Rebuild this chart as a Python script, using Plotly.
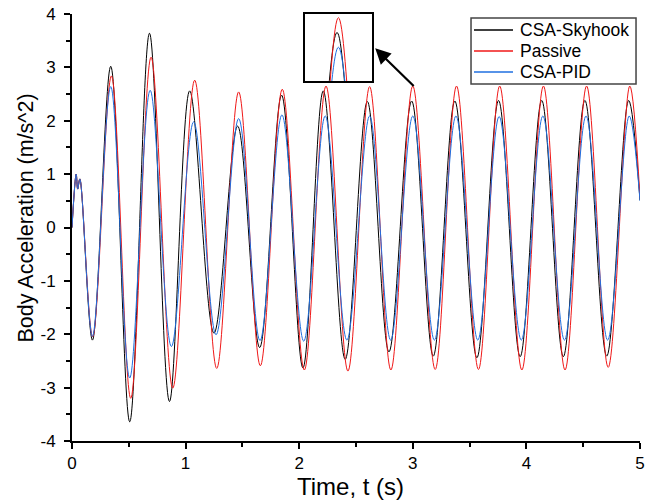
#!/usr/bin/env python3

import plotly.graph_objs as go

# Turning points of each response (time in s, acceleration in m/s^2).
t_skyhook = [0.0, 0.037, 0.050, 0.069, 0.180, 0.341, 0.508, 0.682, 0.858, 1.036, 1.250,
             1.458, 1.652, 1.845, 2.033, 2.212, 2.405, 2.600, 2.790, 2.990, 3.180, 3.370,
             3.564, 3.755, 3.945, 4.135, 4.325, 4.515, 4.707, 4.900, 5.000]
a_skyhook = [0.0, 1.00, 0.72, 0.91, -2.11, 3.02, -3.64, 3.64, -3.26, 2.56, -1.98,
             1.90, -2.25, 2.48, -2.63, 2.56, -2.47, 2.36, -2.33, 2.37, -2.41, 2.37,
             -2.44, 2.38, -2.42, 2.38, -2.42, 2.38, -2.41, 2.38, 0.51]

t_passive = [0.0, 0.037, 0.050, 0.069, 0.182, 0.347, 0.517, 0.696, 0.887, 1.080, 1.274,
             1.467, 1.658, 1.851, 2.045, 2.236, 2.429, 2.620, 2.807, 3.000, 3.197, 3.385,
             3.578, 3.765, 3.960, 4.150, 4.340, 4.530, 4.720, 4.910, 5.000]
a_passive = [0.0, 1.00, 0.72, 0.91, -2.05, 2.84, -3.20, 3.19, -3.01, 2.76, -2.64,
             2.54, -2.59, 2.59, -2.67, 2.65, -2.69, 2.64, -2.67, 2.65, -2.66, 2.65,
             -2.66, 2.65, -2.67, 2.65, -2.67, 2.65, -2.62, 2.65, 0.55]

t_pid = [0.0, 0.037, 0.050, 0.069, 0.180, 0.341, 0.508, 0.688, 0.875, 1.071, 1.268,
         1.467, 1.655, 1.848, 2.040, 2.229, 2.420, 2.620, 2.805, 3.000, 3.190, 3.380,
         3.572, 3.760, 3.955, 4.145, 4.335, 4.525, 4.715, 4.905, 5.000]
a_pid = [0.0, 1.00, 0.72, 0.91, -2.04, 2.64, -2.82, 2.57, -2.23, 1.98, -2.01,
         2.04, -2.12, 2.11, -2.13, 2.09, -2.11, 2.09, -2.11, 2.09, -2.11, 2.09,
         -2.11, 2.08, -2.11, 2.09, -2.11, 2.09, -2.11, 2.09, 0.50]

y_ticks = [-4, -3, -2, -1, 0, 1, 2, 3, 4]
y_labels = ["-4", "-3", "-2", "-1", "0", "1", "2", "3", "4"]
x_ticks = [0, 1, 2, 3, 4, 5]

FONT = "Arial, Liberation Sans, sans-serif"


def main():
    series = [
        ("CSA-Skyhook", t_skyhook, a_skyhook, "#000000"),
        ("Passive", t_passive, a_passive, "#f01818"),
        ("CSA-PID", t_pid, a_pid, "#1f6fe0"),
    ]

    fig = go.Figure()

    # Main curves, then the same curves again in the small magnifier box.
    for axes in (("x", "y"), ("x2", "y2")):
        for name, t, a, color in series:
            fig.add_trace(
                go.Scatter(
                    x=t, y=a, mode="lines", name=name, showlegend=False,
                    xaxis=axes[0], yaxis=axes[1],
                    line=dict(color=color, width=1, shape="spline", smoothing=1.0)))

    axis_common = dict(
        showline=True, linecolor="black", linewidth=2,
        ticks="outside", ticklen=6, tickwidth=1.5, tickcolor="black",
        showgrid=False, zeroline=False, automargin=False, ticklabeloverflow="allow",
        tickfont=dict(family=FONT, size=17, color="black"),
    )
    minor_ticks = dict(dtick=0.5, ticks="outside", ticklen=4, tickwidth=1.5, tickcolor="black")
    inset_axis = dict(
        showline=True, mirror=True, linecolor="black", linewidth=2,
        showticklabels=False, ticks="", showgrid=False, zeroline=False)

    fig.update_layout(
        width=646, height=501,
        margin=dict(l=72, r=6, t=14, b=60),
        paper_bgcolor="white", plot_bgcolor="white",
        font=dict(family=FONT, color="black"),
        xaxis=dict(range=[0, 5], tickvals=x_ticks, minor=minor_ticks, **axis_common),
        yaxis=dict(range=[-4, 4], tickvals=y_ticks, ticktext=y_labels, minor=minor_ticks,
                   ticklabelstandoff=5, **axis_common),
        xaxis2=dict(domain=[0.410, 0.528], range=[2.755, 3.245], anchor="y2", **inset_axis),
        yaxis2=dict(domain=[0.843, 1.0], range=[1.45, 2.72], anchor="x2", **inset_axis),
        showlegend=False,
    )

    # Axis titles.
    fig.add_annotation(
        text="Time, t (s)", xref="paper", yref="paper", x=0.4903, y=-0.1077,
        xanchor="center", yanchor="middle", showarrow=False,
        font=dict(family=FONT, size=24, color="black"))
    fig.add_annotation(
        text="Body Acceleration (m/s^2)", xref="paper", yref="paper", x=-0.081, y=0.5234,
        xanchor="center", yanchor="middle", textangle=-90, showarrow=False,
        font=dict(family=FONT, size=21.5, color="black"))

    # Boxed legend in the top right corner.
    fig.add_shape(type="rect", xref="paper", yref="paper",
                  x0=0.7025, x1=0.993, y0=0.836, y1=0.9906,
                  line=dict(color="#444444", width=1.5), fillcolor="white", layer="above")
    legend_y = [0.9625, 0.9133, 0.8642]
    for (name, _, _, color), ly in zip(series, legend_y):
        fig.add_shape(type="line", xref="paper", yref="paper",
                      x0=0.7077, x1=0.7764, y0=ly, y1=ly,
                      line=dict(color=color, width=1.5), layer="above")
        fig.add_annotation(
            text=name, xref="paper", yref="paper", x=0.7852, y=ly,
            xanchor="left", yanchor="middle", showarrow=False,
            font=dict(family=FONT, size=17.5, color="black"))

    # Arrow from the zoomed peak to the magnifier box.
    fig.add_annotation(
        x=2.669, y=3.356, ax=3.021, ay=2.625,
        xref="x", yref="y", axref="x", ayref="y",
        text="", showarrow=True,
        arrowhead=2, arrowsize=1.4, arrowwidth=2.2, arrowcolor="black")

    # Drop the default page margin so the figure fills the window exactly, no toolbar.
    fig.write_html("out.html", config={"displayModeBar": False},
                   post_script="document.body.style.margin = '0';")


if __name__ == "__main__":
    main()
